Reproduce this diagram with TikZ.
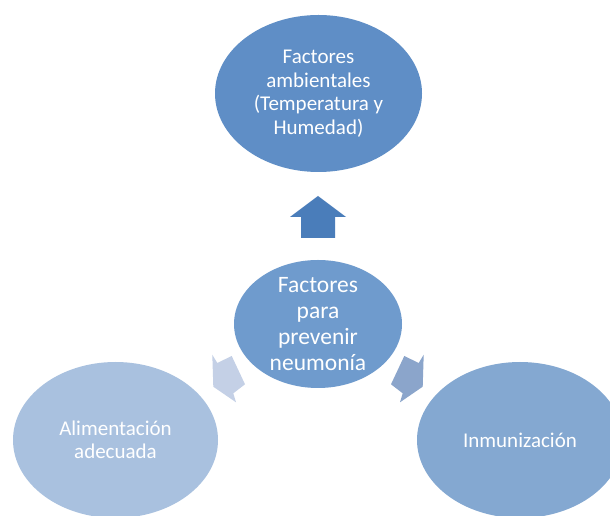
\documentclass[tikz,border=0pt]{standalone}
\usepackage{fontspec}
\setmainfont{Carlito}
\usetikzlibrary{shapes.geometric}

\definecolor{topblue}{HTML}{5F8EC6}
\definecolor{midblue}{HTML}{6F9BCD}
\definecolor{leftblue}{HTML}{A9C1DF}
\definecolor{rightblue}{HTML}{84A8D1}
\definecolor{uparrow}{HTML}{4A7DBA}
\definecolor{leftarrow}{HTML}{C4D0E6}
\definecolor{rightarrow}{HTML}{8BA5CB}

\begin{document}
\begin{tikzpicture}[x=1pt,y=1pt,
    bubble/.style={ellipse,inner sep=-10pt,text=white,align=center,
        font=\fontsize{21}{23.5}\selectfont}]
    \clip (0,0) rectangle (610,516);
    \fill[white] (0,0) rectangle (610,516);
    \node[bubble,fill=topblue,minimum width=207pt,minimum height=157pt] (amb) at (318.5,422.5) {Factores\\ambientales\\(Temperatura y\\Humedad)};
    \node[bubble,fill=midblue,minimum width=168pt,minimum height=128pt,font=\fontsize{23.5}{26}\selectfont] (fac) at (318,192) {Factores\\para\\prevenir\\neumonía};
    \node[bubble,fill=leftblue,minimum width=205pt,minimum height=156pt] (ali) at (115.5,76) {Alimentación\\adecuada};
    \node[bubble,fill=rightblue,minimum width=206pt,minimum height=156pt] (inm) at (520,76) {Inmunización};
    % block arrows
    \fill[uparrow] (318,320) -- (346,299) -- (335,299) -- (335,278) -- (301,278) -- (301,299) -- (290,299) -- cycle;
    \fill[leftarrow] (212.3,161.3) -- (217.3,153) -- (231.7,160) -- (245,131.7) -- (233.3,122.7) -- (236,113.7) -- (213.3,129.3) -- cycle;
    \fill[rightarrow] (423.7,161.3) -- (418.7,153) -- (404.3,160) -- (391,131.7) -- (402.7,122.7) -- (400,113.7) -- (422.7,129.3) -- cycle;
\end{tikzpicture}
\end{document}
